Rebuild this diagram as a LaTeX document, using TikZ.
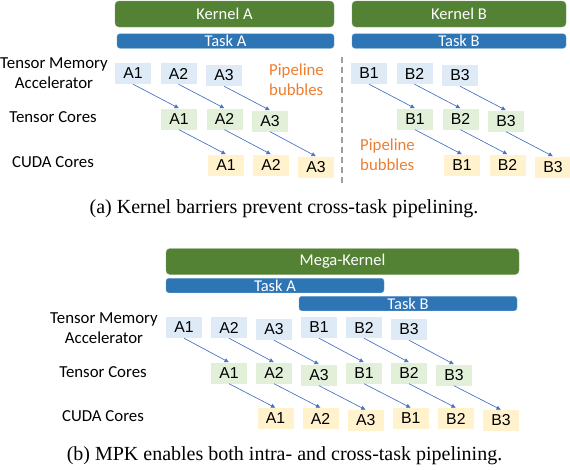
\documentclass[tikz,border=0pt]{standalone}
\usepackage{fontspec}
\setmainfont{Liberation Serif}
\newfontfamily\calibrifont{Carlito}
\newfontfamily\arialfont{Liberation Sans}
\usetikzlibrary{arrows.meta}
\definecolor{kgreen}{HTML}{548235}
\definecolor{tblue}{HTML}{2E75B6}
\definecolor{tmafill}{HTML}{DEEBF7}
\definecolor{tcfill}{HTML}{E2F0D9}
\definecolor{cudafill}{HTML}{FFF2CC}
\definecolor{bubbleorange}{HTML}{ED7D31}
\definecolor{arrowblue}{HTML}{4472C4}
\tikzset{
  kernelbar/.style={fill=kgreen, draw=kgreen!75!white, rounded corners=4pt, inner sep=0pt,
    minimum height=26pt, text=white, font=\calibrifont\fontsize{16.5}{20}\selectfont},
  taskbar/.style={fill=tblue, draw=tblue!75!white, rounded corners=3pt, inner sep=0pt,
    minimum height=14.5pt, text=white, font=\calibrifont\fontsize{16.5}{20}\selectfont},
  opbox/.style={minimum width=36pt, minimum height=21pt, inner sep=0pt,
    font=\arialfont\fontsize{15.8}{18}\selectfont},
  tmabox/.style={opbox, fill=tmafill},
  tcbox/.style={opbox, fill=tcfill},
  cudabox/.style={opbox, fill=cudafill},
  rowlabel/.style={align=center, inner sep=0pt, font=\calibrifont\fontsize{16.8}{20}\selectfont},
  bubbletext/.style={align=left, anchor=west, inner sep=0pt, text=bubbleorange,
    font=\calibrifont\fontsize{16.8}{20}\selectfont},
  pipearrow/.style={-{Latex[length=4.5pt,width=4.5pt]}, draw=arrowblue, fill=arrowblue, line width=0.6pt},
  barrier/.style={draw=black!38, line width=2.2pt, dash pattern=on 6pt off 4pt},
  captext/.style={inner sep=0pt, font=\fontsize{20}{24}\selectfont},
}

\begin{document}
\begin{tikzpicture}[x=1pt, y=-1pt]
  \useasboundingbox (0,0) rectangle (570,469);

  % (a) separate kernels
  \node[kernelbar, minimum width=219pt] (kernA) at (224.5,14) {Kernel A};
  \node[kernelbar, minimum width=214pt] (kernB) at (459,14) {Kernel B};
  \node[taskbar, minimum width=217pt] (taskA) at (225.5,41) {Task A};
  \node[taskbar, minimum width=214pt] (taskB) at (459,41) {Task B};

  \node[rowlabel] (lblTma) at (54,73) {Tensor Memory\\Accelerator};
  \node[rowlabel] (lblTc) at (53,117) {Tensor Cores};
  \node[rowlabel] (lblCuda) at (53,162) {CUDA Cores};

  \foreach \i in {1,2,3} {
    \node[tmabox] (tmaA\i) at ({133+45.5*(\i-1)},{73.5+2*(\i==3)}) {A\i};
    \node[tcbox] (tcA\i) at ({179+45.5*(\i-1)},{119+2*(\i==3)}) {A\i};
    \node[cudabox] (cudaA\i) at ({226+45*(\i-1)},{165+2*(\i==3)}) {A\i};
    \node[tmabox] (tmaB\i) at ({369+45.5*(\i-1)},{73.5+2*(\i==3)}) {B\i};
    \node[tcbox] (tcB\i) at ({415+45.5*(\i-1)},{119+2*(\i==3)}) {B\i};
    \node[cudabox] (cudaB\i) at ({462+45.5*(\i-1)},{165+2*(\i==3)}) {B\i};
    \draw[pipearrow] (tmaA\i.south) -- (tcA\i.north);
    \draw[pipearrow] (tcA\i.south) -- (cudaA\i.north);
    \draw[pipearrow] (tmaB\i.south) -- (tcB\i.north);
    \draw[pipearrow] (tcB\i.south) -- (cudaB\i.north);
  }

  \node[bubbletext] (bubA) at (269,80) {Pipeline\\bubbles};
  \node[bubbletext] (bubB) at (360,155) {Pipeline\\bubbles};

  \coordinate (barTop) at (342,57);
  \coordinate (barBot) at (342,184);
  \draw[barrier] (barTop) -- (barBot);

  \node[captext] (capA) at (284,209) {(a) Kernel barriers prevent cross-task pipelining.};

  % (b) one mega-kernel
  \node[kernelbar, minimum width=353pt] (mega) at (342.5,261.5) {Mega-Kernel};
  \node[taskbar, minimum width=218pt] (mtaskA) at (275,285.5) {Task A};
  \node[taskbar, minimum width=218pt] (mtaskB) at (408,303.5) {Task B};

  \node[rowlabel] (mlblTma) at (104,328) {Tensor Memory\\Accelerator};
  \node[rowlabel] (mlblTc) at (103,372) {Tensor Cores};
  \node[rowlabel] (mlblCuda) at (103,416) {CUDA Cores};

  \foreach \lbl [count=\k from 0] in {A1,A2,A3,B1,B2,B3} {
    \node[tmabox] (mtma\k) at ({184+45*\k},{327.5+2*((\k==2)+(\k==5))}) {\lbl};
    \node[tcbox] (mtc\k) at ({229+45*\k},{373+2*((\k==2)+(\k==5))}) {\lbl};
    \node[cudabox] (mcuda\k) at ({275.5+45.1*\k},{418.5+2*((\k==2)+(\k==5))}) {\lbl};
    \draw[pipearrow] (mtma\k.south) -- (mtc\k.north);
    \draw[pipearrow] (mtc\k.south) -- (mcuda\k.north);
  }

  \node[captext] (capB) at (284.5,456) {(b) MPK enables both intra- and cross-task pipelining.};
\end{tikzpicture}
\end{document}
